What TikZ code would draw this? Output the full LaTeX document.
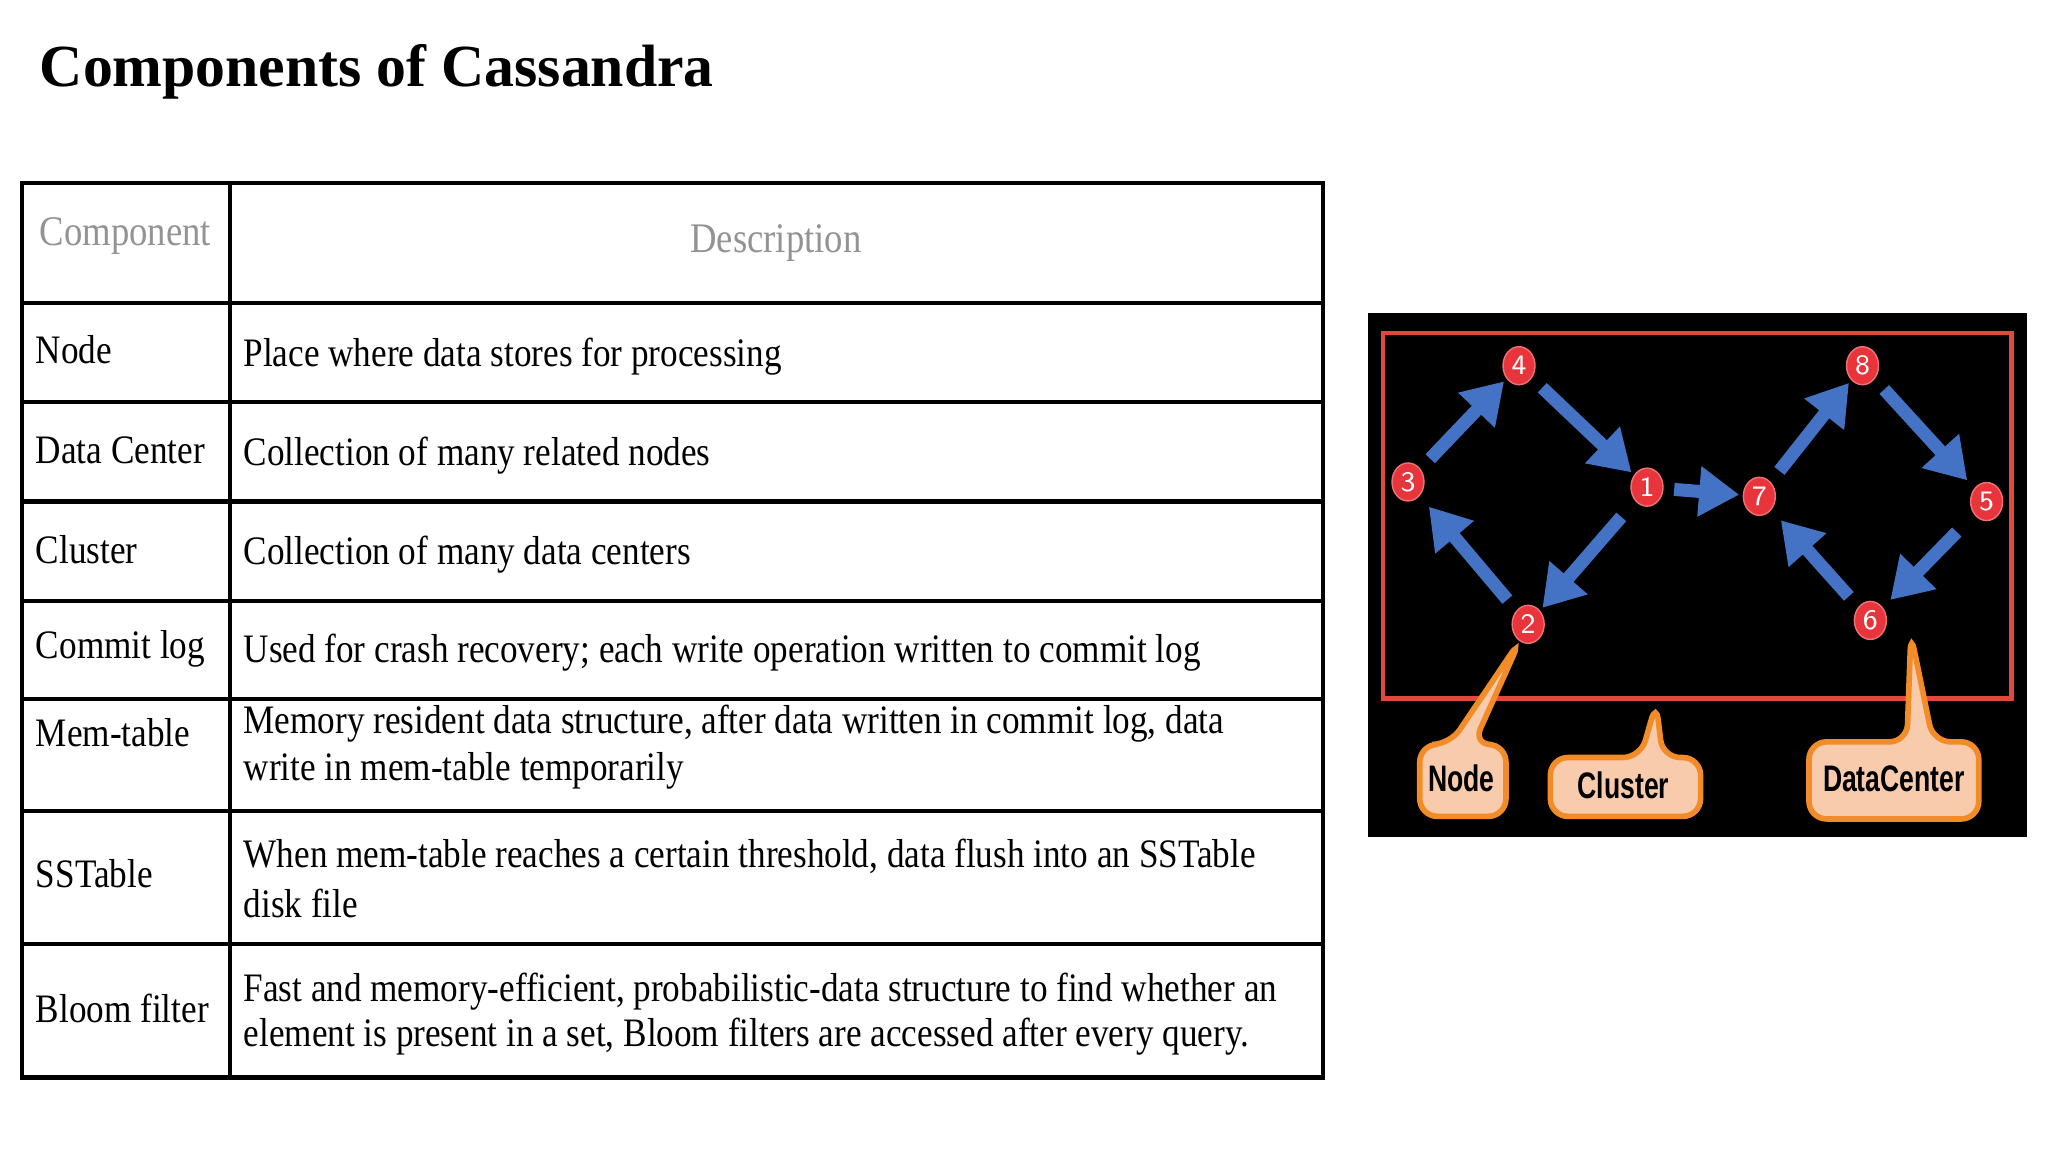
\documentclass[tikz,border=0pt]{standalone}
\usepackage{fontspec}
\setmainfont{Liberation Serif}
\newfontfamily\tabfont{Liberation Serif}[FakeStretch=0.87]
\newfontfamily\calfont{Liberation Sans}[FakeStretch=0.72]
\usetikzlibrary{arrows.meta,shapes.geometric}
\definecolor{arrblue}{HTML}{4472C4}
\definecolor{nodered}{HTML}{E8353B}
\definecolor{peach}{HTML}{F8CBAD}
\definecolor{orng}{HTML}{F28C28}
\definecolor{redbox}{HTML}{E04A3C}
\begin{document}
\begin{tikzpicture}[x=0.01306cm,y=-0.01306cm,
  cell/.style={anchor=west,font=\tabfont\fontsize{11.5}{16}\selectfont,align=left,inner sep=0pt},
  hdr/.style={font=\tabfont\fontsize{12}{14}\selectfont,text=gray!85,inner sep=0pt},
  gl/.style={line width=1.2pt},
  num/.style={ellipse,fill=nodered,draw=nodered!70!white,line width=0.4pt,minimum width=0.32cm,minimum height=0.38cm,inner sep=0pt,text=white,font=\sffamily\fontsize{8}{8}\selectfont},
  arr/.style={arrblue,line width=0.13cm,-{Triangle[width=0.48cm,length=0.4cm]},shorten <=4pt,shorten >=1pt},
  callout/.style={fill=peach,draw=orng,line width=1.6pt,rounded corners=5pt},
  ctext/.style={font=\calfont\bfseries\fontsize{10.5}{12}\selectfont,inner sep=0pt}]
\useasboundingbox (0,0) rectangle (1568,882);
% title
\node[anchor=west,font=\bfseries\fontsize{17}{20}\selectfont,inner sep=0pt] (title) at (30,55) {Components of Cassandra};
% table grid
\draw[gl] (17,140) rectangle (1013,825);
\draw[gl] (176,140) -- (176,825);
\foreach \y in {232,308,384,460,535,621,723} \draw[gl] (17,\y) -- (1013,\y);
\node[hdr] (hc) at (96,181) {Component};
\node[hdr] (hd) at (594,186) {Description};
\node[cell] (r1) at (27,268) {Node};
\node[cell] (r2) at (27,345) {Data Center};
\node[cell] (r3) at (27,421) {Cluster};
\node[cell] (r4) at (27,497) {Commit log};
\node[cell] (r5) at (27,561) {Mem-table};
\node[cell] (r6) at (27,669) {SSTable};
\node[cell] (r7) at (27,772) {Bloom filter};
\node[cell] (d1) at (186,273) {Place where data stores for processing};
\node[cell] (d2) at (186,349) {Collection of many related nodes};
\node[cell] (d3) at (186,425) {Collection of many data centers};
\node[cell] (d4) at (186,500) {Used for crash recovery; each write operation written to commit log};
\node[cell] (d5a) at (186,554) {Memory resident data structure, after data written in commit log, data};
\node[cell] (d5b) at (186,590) {write in mem-table temporarily};
\node[cell] (d6a) at (186,656) {When mem-table reaches a certain threshold, data flush into an SSTable};
\node[cell] (d6b) at (186,692) {disk file};
\node[cell] (d7a) at (186,759) {Fast and memory-efficient, probabilistic-data structure to find whether an};
\node[cell] (d7b) at (186,794) {element is present in a set, Bloom filters are accessed after every query.};
% panel
\fill[black] (1047,240) rectangle (1552,641);
\draw[redbox,line width=1.3pt] (1059,255) rectangle (1540,535);
\node[num] (n4) at (1163,280) {4};
\node[num] (n8) at (1426,280) {8};
\node[num] (n3) at (1078,369) {3};
\node[num] (n1) at (1261,373) {1};
\node[num] (n7) at (1347,380) {7};
\node[num] (n5) at (1521,384) {5};
\node[num] (n2) at (1170,478) {2};
\node[num] (n6) at (1432,475) {6};
\draw[arr] (n3) -- (n4);
\draw[arr] (n4) -- (n1);
\draw[arr,shorten <=3pt] (n1) -- (n7);
\draw[arr] (n7) -- (n8);
\draw[arr,shorten >=3pt] (n8) -- (n5);
\draw[arr,shorten <=7pt,shorten >=3pt] (n5) -- (n6);
\draw[arr,shorten >=4pt] (n6) -- (n7);
\draw[arr,shorten <=6pt] (n1) -- (n2);
\draw[arr,shorten >=4pt] (n2) -- (n3);
% callouts
\coordinate (t2) at (1164,490);
\coordinate (tc) at (1268,538);
\coordinate (t6) at (1463,485);
\draw[callout] (1087,570) -- (1110,570) -- (t2) -- (1128,570) -- (1153,570) -- (1153,625) -- (1087,625) -- cycle;
\draw[callout] (1187,580) -- (1256,580) -- (tc) -- (1273,580) -- (1302,580) -- (1302,625) -- (1187,625) -- cycle;
\draw[callout] (1385,568) -- (1460,568) -- (t6) -- (1480,568) -- (1515,568) -- (1515,627) -- (1385,627) -- cycle;
\node[ctext] (cn) at (1119,596) {Node};
\node[ctext] (cc) at (1243,601) {Cluster};
\node[ctext] (cd) at (1450,596) {DataCenter};
\end{tikzpicture}
\end{document}
